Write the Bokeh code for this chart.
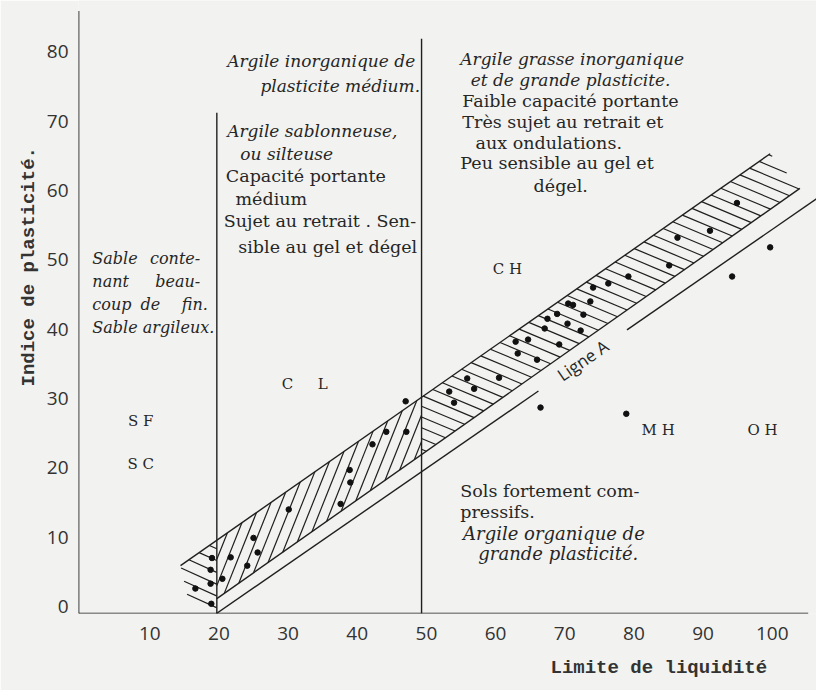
import numpy as np
from bokeh.plotting import figure
from bokeh.models import ColumnDataSource, Title
from bokeh.core.properties import value
from bokeh.embed import file_html
from bokeh.resources import INLINE

# ---------------- data ----------------
# soil samples: liquid limit (LL) and plasticity index (PI)
soil_ll = [16.6, 18.8, 18.8, 18.9, 19.0, 20.5, 21.7, 24.1, 25.6, 25.0, 30.1, 37.6,
           39.0, 38.9, 42.2, 44.2, 47.1, 47.0,
           53.3, 54.0, 55.9, 56.9, 60.5, 62.9, 63.2, 64.7, 66.0, 67.1, 67.5, 69.2,
           68.9, 70.4, 70.5, 71.2, 72.3, 72.7, 73.7, 74.1, 76.3, 79.2, 85.1, 86.3,
           91.0, 94.9,
           66.5, 78.9, 94.2, 99.7]
soil_pi = [2.6, 5.3, 3.3, 0.4, 7.0, 4.0, 7.1, 5.9, 7.8, 9.9, 14.0, 14.8,
           17.9, 19.7, 23.4, 25.2, 25.2, 29.6,
           31.0, 29.4, 32.9, 31.4, 33.0, 38.2, 36.5, 38.5, 35.6, 40.1, 41.5, 37.8,
           42.2, 40.8, 43.7, 43.5, 39.8, 42.1, 44.0, 46.0, 46.6, 47.6, 49.2, 53.2,
           54.2, 58.2,
           28.7, 27.8, 47.6, 51.8]

x_ticks = [10, 20, 30, 40, 50, 60, 70, 80, 90, 100]
y_ticks = [0, 10, 20, 30, 40, 50, 60, 70, 80]

# zone limits (LL ~ 20 and LL ~ 50) and the top of each drawn limit
zone_ll = [19.7, 49.3]
zone_top = [71.2, 81.9]

# "Ligne A" and the gap left for its label
a_line_ll = [19.65, 106.4]
a_line_pi = [-1.0, 58.8]
a_gap_ll = [66.2, 79.0]

# hatched band: upper edge, lower edge, left end
band_up_ll = [14.45, 99.7]
band_up_pi = [5.9, 65.3]
band_lo_ll = [19.7, 104.0]
band_lo_pi = [1.15, 60.3]
band_tip_ll = [15.5, 19.65]
band_tip_pi = [1.3, -1.0]

# axis extents
x_axis_ll = [-0.3, 105.2]
y_axis_pi = [-1.0, 85.9]

INK = "#1f1f1f"
TXT = "#262626"
BG = "#f2f2f0"


def line_fn(xs, ys):
    k = (ys[1] - ys[0]) / (xs[1] - xs[0])
    return lambda x: ys[0] + (x - xs[0]) * k


def hatch(poly, slope, step, phase=0.5):
    poly = np.asarray(poly, dtype=float)
    c_all = poly[:, 1] - slope * poly[:, 0]
    cs = np.arange(c_all.min() + phase * step, c_all.max(), step)
    out = ([], [], [], [])
    n = len(poly)
    for c in cs:
        pts = []
        for i in range(n):
            xa, ya = poly[i]
            xb, yb = poly[(i + 1) % n]
            fa = ya - slope * xa - c
            fb = yb - slope * xb - c
            if fa == fb:
                continue
            if (fa <= 0 <= fb) or (fb <= 0 <= fa):
                t = fa / (fa - fb)
                pts.append((xa + t * (xb - xa), ya + t * (yb - ya)))
        if len(pts) >= 2:
            pts.sort()
            out[0].append(pts[0][0]); out[1].append(pts[0][1])
            out[2].append(pts[-1][0]); out[3].append(pts[-1][1])
    return out


U = line_fn(band_up_ll, band_up_pi)
L = line_fn(band_lo_ll, band_lo_pi)
A = line_fn(a_line_ll, a_line_pi)
z0, z1 = zone_ll

p = figure(width=816, height=690, x_range=(-0.3, 106.4), y_range=(-1.0, 87.4),
           output_backend="svg", toolbar_location=None,
           min_border_left=78, min_border_right=0, min_border_top=0, min_border_bottom=77)
p.background_fill_color = BG
p.border_fill_color = BG
p.outline_line_color = None
p.grid.visible = False

for ax in (p.xaxis, p.yaxis):
    ax.axis_line_color = None
    ax.major_tick_line_color = None
    ax.minor_tick_line_color = None
    ax.major_label_text_font = "Open Sans"
    ax.major_label_text_font_size = "19px"
    ax.major_label_text_color = "#333333"
p.xaxis.major_label_standoff = 7
p.yaxis.major_label_standoff = 4
p.xaxis.ticker = x_ticks
p.yaxis.ticker = y_ticks

# axis titles as side titles, shifted along the axis
p.add_layout(Title(text="Limite de liquidité", align="left", offset=472, standoff=24,
                   text_font="Liberation Mono", text_font_style="bold",
                   text_font_size="19px", text_color="#333333"), "below")
p.add_layout(Title(text="Indice de plasticité.", align="left", offset=227, standoff=8,
                   text_font="Liberation Mono", text_font_style="bold",
                   text_font_size="19px", text_color="#333333"), "left")

# axes lines
p.segment(x0=[x_axis_ll[0]], y0=[y_axis_pi[0]], x1=[x_axis_ll[1]], y1=[y_axis_pi[0]],
          line_color=INK, line_width=1.7)
p.segment(x0=[x_axis_ll[0]], y0=[y_axis_pi[0]], x1=[x_axis_ll[0]], y1=[y_axis_pi[1]],
          line_color=INK, line_width=1.7)

# zone limit lines
p.segment(x0=zone_ll, y0=[y_axis_pi[0]] * 2, x1=zone_ll, y1=zone_top,
          line_color=INK, line_width=1.4)

# hatching
left_poly = [(band_up_ll[0], band_up_pi[0]), (z0, U(z0)), (band_tip_ll[1], band_tip_pi[1]),
             (band_tip_ll[0], band_tip_pi[0])]
cl_poly = [(z0, U(z0)), (z1, U(z1)), (z1, L(z1)), (z0, L(z0))]
ch_poly = [(z1, U(z1)), (band_up_ll[1], band_up_pi[1]), (band_lo_ll[1], band_lo_pi[1]), (z1, L(z1))]

for poly, slope, step in ((left_poly, -0.45, 1.7), (cl_poly, 2.5, 3.8), (ch_poly, -0.42, 1.55)):
    hx0, hy0, hx1, hy1 = hatch(poly, slope, step)
    p.segment(x0=hx0, y0=hy0, x1=hx1, y1=hy1, line_color=INK, line_width=1.2)

# band edges
p.line(band_up_ll, band_up_pi, line_color=INK, line_width=1.4)
p.line(band_lo_ll, band_lo_pi, line_color=INK, line_width=1.4)

# A line (with gap for its label)
p.segment(x0=[a_line_ll[0], a_gap_ll[1]], y0=[a_line_pi[0], A(a_gap_ll[1])],
          x1=[a_gap_ll[0], a_line_ll[1]], y1=[A(a_gap_ll[0]), a_line_pi[1]],
          line_color=INK, line_width=1.4)

# soil samples
p.scatter(soil_ll, soil_pi, size=5.5, color="#111111")

# ---------------- texts ----------------
roman = [
    (21.0, 62.1, "Capacité portante", "left"),
    (22.4, 58.8, "médium", "left"),
    (20.7, 55.6, "Sujet au retrait . Sen-", "left"),
    (22.8, 51.8, "sible au gel et dégel", "left"),
    (55.2, 72.9, "Faible capacité portante", "left"),
    (55.2, 69.9, "Très sujet au retrait  et", "left"),
    (57.1, 66.9, "aux ondulations.", "left"),
    (54.9, 63.9, "Peu sensible au gel et", "left"),
    (65.5, 60.7, "dégel.", "left"),
    (54.9, 16.7, "Sols fortement com-", "left"),
    (54.9, 13.7, "pressifs.", "left"),
]
italic = [
    (21.2, 78.7, "Argile inorganique de", "left"),
    (26.0, 75.1, "plasticite médium.", "left"),
    (21.2, 68.6, "Argile sablonneuse,", "left"),
    (23.1, 65.3, "ou silteuse", "left"),
    (54.9, 79.0, "Argile grasse inorganique", "left"),
    (56.4, 76.0, "et de grande plasticite.", "left"),
]
italic_low = [
    (55.3, 10.5, "Argile organique de", "left"),
    (57.5, 7.6, "grande plasticité.", "left"),
]
sable = [
    (1.7, 50.2, "Sable", "left"), (17.3, 50.2, "conte-", "right"),
    (1.7, 46.9, "nant", "left"), (17.3, 46.9, "beau-", "right"),
    (1.7, 43.5, "coup", "left"), (10.1, 43.5, "de", "center"), (18.4, 43.5, "fin.", "right"),
    (1.7, 40.2, "Sable argileux.", "left"),
]
codes = [
    (8.7, 26.8, "S F"), (8.7, 20.6, "S C"),
    (29.9, 32.1, "C"), (35.0, 32.1, "L"),
    (61.7, 48.7, "C H"), (83.5, 25.4, "M H"), (98.6, 25.4, "O H"),
]


def add_text(rows, size, style):
    src = ColumnDataSource(dict(x=[r[0] for r in rows], y=[r[1] for r in rows],
                                t=[r[2] for r in rows], a=[r[3] for r in rows]))
    p.text(x="x", y="y", text="t", text_align="a", source=src,
           text_font=value("DejaVu Serif"), text_font_size=size,
           text_font_style=value(style), text_baseline="middle", text_color=TXT)


add_text(roman, "17.5px", "normal")
add_text(italic, "17px", "italic")
add_text(italic_low, "18px", "italic")
add_text(sable, "16px", "italic")
add_text([(c[0], c[1], c[2], "center") for c in codes], "15px", "normal")

ang = float(np.arctan((a_line_pi[1] - a_line_pi[0]) / (a_line_ll[1] - a_line_ll[0])
                      * (613 / 88.4) / (738 / 106.7)))
gap_mid = (a_gap_ll[0] + a_gap_ll[1]) / 2
p.text(x=[gap_mid], y=[A(gap_mid)], text=["Ligne A"], angle=ang,
       text_font=value("Open Sans"), text_font_size="17px", text_align="center",
       text_baseline="middle", text_color=TXT)

open("out.html", "w").write(file_html(p, INLINE))
